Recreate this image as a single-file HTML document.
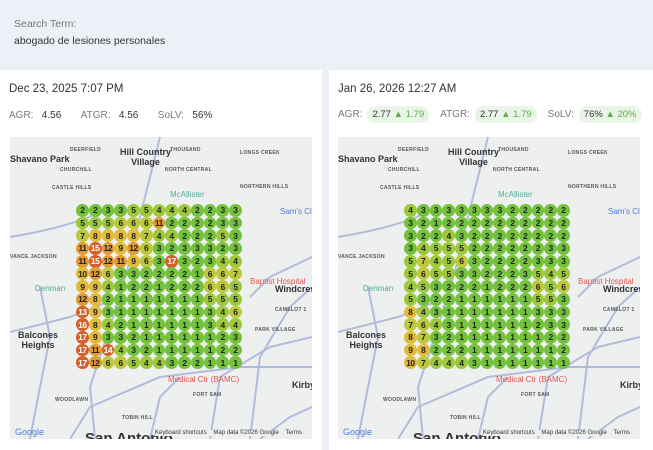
<!DOCTYPE html>
<html><head><meta charset="utf-8"><style>
*{margin:0;padding:0;box-sizing:border-box}
body{width:653px;height:450px;overflow:hidden;background:#eef0f8;font-family:"Liberation Sans",sans-serif;position:relative;color:#333}
.abs{position:absolute}
.card{position:absolute;top:70px;height:380px;background:#fff}
.date{position:absolute;left:9px;top:13px;font-size:11.5px;color:#333}
.met{position:absolute;left:9px;top:39px;font-size:10px;color:#777;display:flex;align-items:center;white-space:nowrap}
.met b{font-weight:normal;color:#333}
.pill{background:#e9f5e6;border-radius:9px;padding:3px 5px;color:#333;margin-left:5px;margin-right:11px;font-size:9.5px}
.pill span{color:#5cad4c}
.map{position:absolute;top:67px;width:302px;height:302px;background:#eef0ef;overflow:hidden}
.grid{position:absolute;left:66px;top:67px}
.row{display:flex;height:12.7px}
.c{width:12.75px;height:12.75px;border-radius:50%;font-size:8.5px;font-weight:bold;display:flex;align-items:center;justify-content:center;color:#222;flex:none;letter-spacing:-0.5px}
.lbl{position:absolute;font-size:5px;color:#555;font-weight:bold;letter-spacing:.3px}
.big{position:absolute;font-size:9px;color:#333;font-weight:bold}
</style></head><body>
<div class="abs" style="left:14px;top:18px;font-size:10.5px;color:#777">Search Term:</div>
<div class="abs" style="left:14px;top:35px;font-size:10.5px;color:#333">abogado de lesiones personales</div>

<div class="card" style="left:0;width:322px">
<div class="date">Dec 23, 2025 7:07 PM</div>
<div class="met" style="top:40px">AGR:&nbsp;&nbsp;&nbsp;<b>4.56</b>&nbsp;&nbsp;&nbsp;&nbsp;&nbsp;&nbsp;&nbsp;ATGR:&nbsp;&nbsp;&nbsp;<b>4.56</b>&nbsp;&nbsp;&nbsp;&nbsp;&nbsp;&nbsp;&nbsp;SoLV:&nbsp;&nbsp;&nbsp;<b>56%</b></div>
<div class="map" style="left:10px">
<svg width="302" height="302" style="position:absolute;left:0;top:0" fill="none" stroke="#b3bbdb" stroke-width="2">
<path d="M150 0 L130 80 L118 130 L100 190 L80 250 L85 302"/>
<path d="M0 100 Q60 90 90 75 L160 72"/>
<path d="M0 195 L60 180 L110 160"/>
<path d="M240 302 L250 220 L280 170 L302 150"/>
<path d="M200 302 L210 240 L260 210 L302 200"/>
<path d="M60 302 L80 270 L150 240 L230 230 L302 230"/>
<path d="M140 302 L150 260 L170 240"/>
<path d="M20 302 L30 250 L40 200 L30 150"/>
<path d="M250 302 L280 280 L302 270"/>
<path d="M302 120 L260 140 L240 160"/>
</svg>
<div class="lbl" style="left:60px;top:10px">DEERFIELD</div>
<div class="big" style="left:0;top:17px">Shavano Park</div>
<div class="big" style="left:110px;top:10px;text-align:center;line-height:10px">Hill Country<br>Village</div>
<div class="lbl" style="left:160px;top:10px">THOUSAND</div>
<div class="lbl" style="left:230px;top:13px">LONGS CREEK</div>
<div class="lbl" style="left:50px;top:30px">CHURCHILL</div>
<div class="lbl" style="left:155px;top:30px">NORTH CENTRAL</div>
<div class="lbl" style="left:42px;top:48px">CASTLE HILLS</div>
<div class="lbl" style="left:230px;top:47px">NORTHERN HILLS</div>
<div class="abs" style="left:160px;top:53px;font-size:8px;color:#5a9">McAllister</div>
<div class="abs" style="left:270px;top:70px;font-size:8px;color:#57c">Sam's Cl</div>
<div class="lbl" style="left:0;top:117px">VANCE JACKSON</div>
<div class="abs" style="left:25px;top:147px;font-size:8px;color:#5a9">Denman</div>
<div class="abs" style="left:240px;top:140px;font-size:8px;color:#d55">Baptist Hospital</div>
<div class="big" style="left:265px;top:147px">Windcrest</div>
<div class="lbl" style="left:265px;top:170px">CAMELOT 1</div>
<div class="big" style="left:8px;top:193px;text-align:center;line-height:10px">Balcones<br>Heights</div>
<div class="lbl" style="left:245px;top:190px">PARK VILLAGE</div>
<div class="abs" style="left:158px;top:238px;font-size:8px;color:#d55">Medical Ctr (BAMC)</div>
<div class="big" style="left:282px;top:243px">Kirby</div>
<div class="lbl" style="left:183px;top:255px">FORT SAM</div>
<div class="lbl" style="left:45px;top:260px">WOODLAWN</div>
<div class="lbl" style="left:112px;top:278px">TOBIN HILL</div>
<div class="abs" style="left:5px;top:290px;font-size:9px;color:#4a7fd9">Google</div>
<div class="abs" style="left:75px;top:293px;font-size:15px;font-weight:bold;color:#333">San Antonio</div>
<div class="abs" style="left:145px;top:293px;font-size:6px;color:#333;background:#eef0ef">Keyboard shortcuts&nbsp;&nbsp;&nbsp;&nbsp;Map data ©2026 Google&nbsp;&nbsp;&nbsp;&nbsp;Terms</div>
<div class="grid" data-g="2 2 3 3 5 5 4 4 4 2 2 3 3|5 5 5 6 6 6 11 2 2 2 2 3 3|7 8 8 8 8 7 4 4 2 2 2 5 3|11 15 12 9 12 6 3 2 3 3 3 2 3|11 15 12 11 9 6 3 17 3 2 3 4 4|10 12 6 3 3 2 2 2 2 1 6 6 7|9 9 4 1 2 2 1 2 2 2 6 6 5|12 8 2 1 1 1 1 1 1 1 5 5 5|13 9 3 1 1 1 1 1 1 1 3 4 6|16 8 4 2 1 1 1 1 1 1 3 4 4|17 9 3 3 2 1 1 1 1 1 1 2 3|17 11 14 4 3 2 1 1 1 1 1 2 2|17 12 6 6 5 4 4 3 2 2 1 1 1"></div>
</div>
</div>

<div class="card" style="left:329px;width:324px">
<div class="date">Jan 26, 2026 12:27 AM</div>
<div class="met" style="top:36px">AGR:<span class="pill">2.77 <span>▲ 1.79</span></span>ATGR:<span class="pill">2.77 <span>▲ 1.79</span></span>SoLV:<span class="pill">76% <span>▲ 20%</span></span></div>
<div class="map" style="left:9px">
<svg width="302" height="302" style="position:absolute;left:0;top:0" fill="none" stroke="#b3bbdb" stroke-width="2">
<path d="M150 0 L130 80 L118 130 L100 190 L80 250 L85 302"/>
<path d="M0 100 Q60 90 90 75 L160 72"/>
<path d="M0 195 L60 180 L110 160"/>
<path d="M240 302 L250 220 L280 170 L302 150"/>
<path d="M200 302 L210 240 L260 210 L302 200"/>
<path d="M60 302 L80 270 L150 240 L230 230 L302 230"/>
<path d="M140 302 L150 260 L170 240"/>
<path d="M20 302 L30 250 L40 200 L30 150"/>
<path d="M250 302 L280 280 L302 270"/>
<path d="M302 120 L260 140 L240 160"/>
</svg>
<div class="lbl" style="left:60px;top:10px">DEERFIELD</div>
<div class="big" style="left:0;top:17px">Shavano Park</div>
<div class="big" style="left:110px;top:10px;text-align:center;line-height:10px">Hill Country<br>Village</div>
<div class="lbl" style="left:160px;top:10px">THOUSAND</div>
<div class="lbl" style="left:230px;top:13px">LONGS CREEK</div>
<div class="lbl" style="left:50px;top:30px">CHURCHILL</div>
<div class="lbl" style="left:155px;top:30px">NORTH CENTRAL</div>
<div class="lbl" style="left:42px;top:48px">CASTLE HILLS</div>
<div class="lbl" style="left:230px;top:47px">NORTHERN HILLS</div>
<div class="abs" style="left:160px;top:53px;font-size:8px;color:#5a9">McAllister</div>
<div class="abs" style="left:270px;top:70px;font-size:8px;color:#57c">Sam's Cl</div>
<div class="lbl" style="left:0;top:117px">VANCE JACKSON</div>
<div class="abs" style="left:25px;top:147px;font-size:8px;color:#5a9">Denman</div>
<div class="abs" style="left:240px;top:140px;font-size:8px;color:#d55">Baptist Hospital</div>
<div class="big" style="left:265px;top:147px">Windcrest</div>
<div class="lbl" style="left:265px;top:170px">CAMELOT 1</div>
<div class="big" style="left:8px;top:193px;text-align:center;line-height:10px">Balcones<br>Heights</div>
<div class="lbl" style="left:245px;top:190px">PARK VILLAGE</div>
<div class="abs" style="left:158px;top:238px;font-size:8px;color:#d55">Medical Ctr (BAMC)</div>
<div class="big" style="left:282px;top:243px">Kirby</div>
<div class="lbl" style="left:183px;top:255px">FORT SAM</div>
<div class="lbl" style="left:45px;top:260px">WOODLAWN</div>
<div class="lbl" style="left:112px;top:278px">TOBIN HILL</div>
<div class="abs" style="left:5px;top:290px;font-size:9px;color:#4a7fd9">Google</div>
<div class="abs" style="left:75px;top:293px;font-size:15px;font-weight:bold;color:#333">San Antonio</div>
<div class="abs" style="left:145px;top:293px;font-size:6px;color:#333;background:#eef0ef">Keyboard shortcuts&nbsp;&nbsp;&nbsp;&nbsp;Map data ©2026 Google&nbsp;&nbsp;&nbsp;&nbsp;Terms</div>
<div class="grid" data-g="4 3 3 3 3 3 3 3 2 2 2 2 2|3 2 1 2 2 2 2 2 2 2 2 2 2|3 2 2 4 3 2 2 2 2 2 2 2 2|3 4 5 5 5 2 2 2 2 2 2 3 3|5 7 4 5 6 3 2 2 2 2 3 3 3|5 6 5 5 3 3 2 2 2 3 5 4 5|4 5 3 2 2 2 1 2 2 2 6 5 6|5 3 2 2 1 1 1 1 1 1 5 5 3|8 4 3 1 1 1 1 1 1 1 3 3 3|7 6 4 3 1 1 1 1 1 1 2 3 3|8 7 3 2 1 1 1 1 1 1 1 2 2|9 8 2 2 2 1 1 1 1 1 1 1 2|10 7 4 4 4 3 1 1 1 1 1 1 1"></div>
</div>
</div>
<script>
function col(n){if(n<=3)return"#74c23c";if(n<=5)return"#9cc83c";if(n<=7)return"#bdc83a";if(n<=10)return"#e2bb3c";if(n<=12)return"#e19a34";return"#d4602c"}
document.querySelectorAll('.grid').forEach(g=>{g.getAttribute('data-g').split('|').forEach(r=>{const d=document.createElement('div');d.className='row';r.split(' ').forEach(v=>{const s=document.createElement('div');s.className='c';const n=+v;s.style.background=col(n);if(n>=13)s.style.color='#fff';s.textContent=v;d.appendChild(s)});g.appendChild(d)})});
</script>
</body></html>
